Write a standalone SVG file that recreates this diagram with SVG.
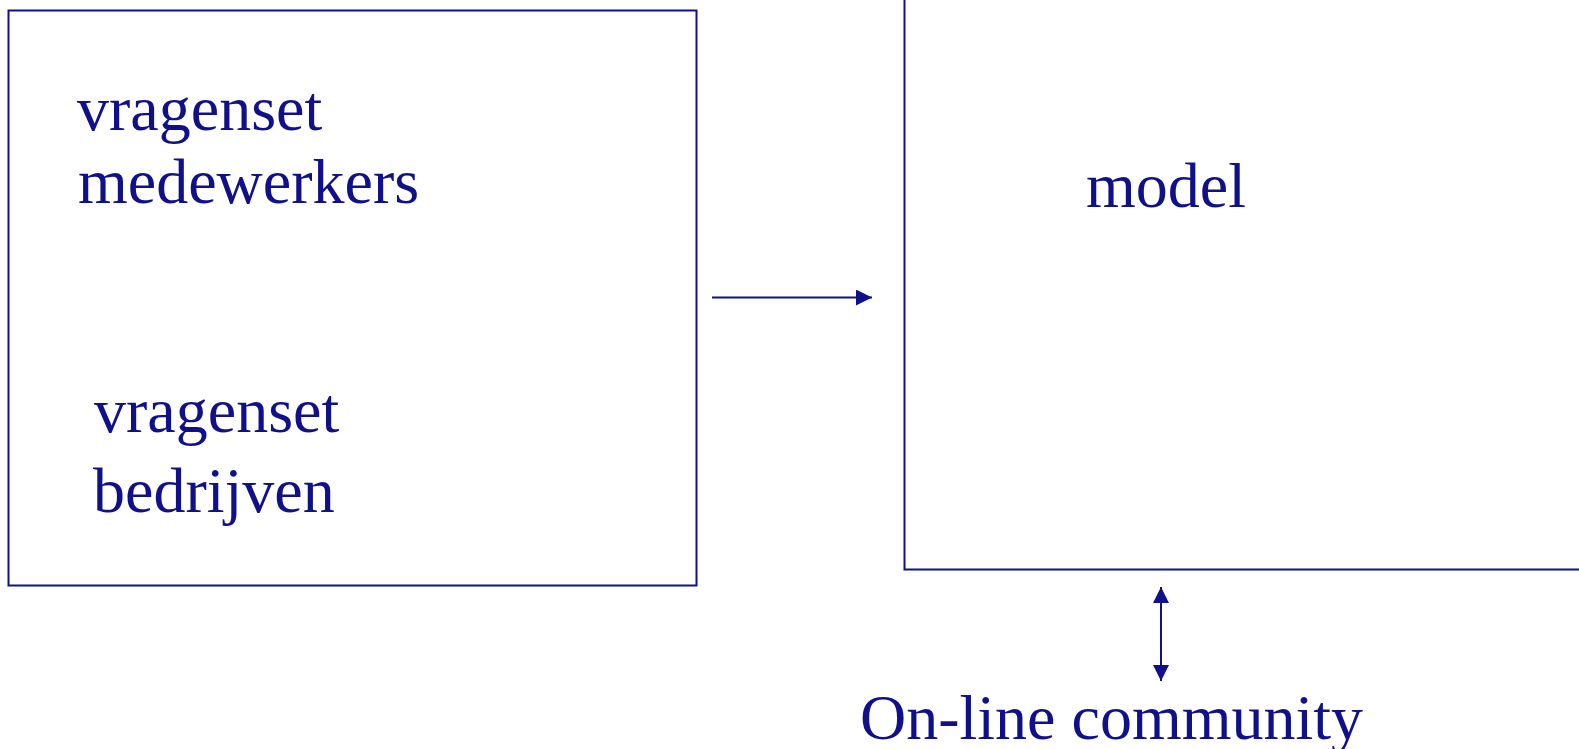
<svg xmlns="http://www.w3.org/2000/svg" width="1579" height="749" viewBox="0 0 1579 749">
  <style>
    .box { fill: none; stroke: #10108a; stroke-width: 2; }
    .lbl { font-family: "Liberation Serif", "Times New Roman", serif; font-size: 64px; fill: #10108a; }
    .conn { stroke: #10108a; stroke-width: 2; fill: none; }
  </style>
  <defs>
    <marker id="ah" viewBox="0 0 16 16" refX="16" refY="8" markerWidth="16" markerHeight="16" markerUnits="userSpaceOnUse" orient="auto-start-reverse">
      <path d="M0,0 L16,8 L0,16 Z" fill="#10108a"/>
    </marker>
  </defs>
  <rect width="1579" height="749" fill="#ffffff"/>
  <g id="node-vragensets">
    <rect class="box" x="8.5" y="10.5" width="688" height="575"/>
    <text class="lbl" x="77" y="130">vragenset</text>
    <text class="lbl" x="78" y="203">medewerkers</text>
    <text class="lbl" x="94" y="432">vragenset</text>
    <text class="lbl" x="93" y="512">bedrijven</text>
  </g>
  <g id="node-model">
    <rect class="box" x="904.5" y="-10" width="700" height="579.5"/>
    <text class="lbl" x="1086" y="207">model</text>
  </g>
  <g id="node-community">
    <text class="lbl" x="860" y="739">On-line community</text>
  </g>
  <g id="connectors">
    <line class="conn" x1="712" y1="297.5" x2="872" y2="297.5" marker-end="url(#ah)"/>
    <line class="conn" x1="1161" y1="587" x2="1161" y2="681" marker-start="url(#ah)" marker-end="url(#ah)"/>
  </g>
</svg>
